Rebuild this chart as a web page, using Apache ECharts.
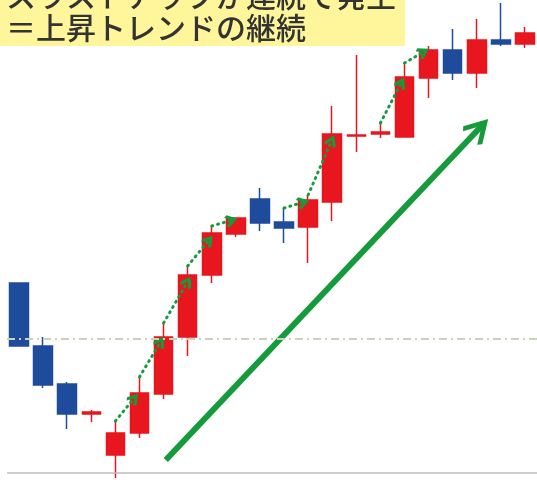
<!DOCTYPE html>
<html>
<head>
<meta charset="utf-8">
<script src="https://cdn.jsdelivr.net/npm/echarts@6/dist/echarts.min.js"></script>
<style>
  html, body { margin: 0; padding: 0; background: #ffffff; }
  #chart { width: 537px; height: 480px; }
</style>
</head>
<body>
<div id="chart"></div>
<script>
// Session labels (one candle each)
const sessions = ['1','2','3','4','5','6','7','8','9','10','11','12','13','14','15','16','17','18','19','20','21','22'];

// OHLC prices per session
const opens  = [141.97, 141.34, 140.96, 140.66, 140.25, 140.47, 140.86, 141.43, 142.05, 142.46, 142.81, 142.58, 142.53, 142.78, 143.44, 143.46, 143.43, 144.02, 144.30, 144.07, 144.40, 144.36];
const closes = [141.34, 140.95, 140.66, 140.68, 140.47, 140.87, 141.43, 142.05, 142.47, 142.62, 142.57, 142.52, 142.80, 143.46, 143.45, 143.48, 144.03, 144.30, 144.07, 144.40, 144.36, 144.47];
const lows   = [141.34, 140.92, 140.51, 140.58, 140.02, 140.42, 140.81, 141.24, 141.97, 142.43, 142.49, 142.37, 142.17, 142.59, 143.28, 143.42, 143.43, 143.82, 144.00, 143.92, 144.34, 144.32];
const highs  = [141.97, 141.43, 140.98, 140.70, 140.59, 141.03, 141.57, 142.14, 142.54, 142.62, 142.92, 142.72, 142.85, 143.74, 144.25, 143.57, 144.17, 144.34, 144.51, 144.61, 144.77, 144.53];

// Reference price levels
const pivotLevel = 141.41;
const baseLevel = 140.075;

// Thrust-up links: previous high -> next close  [session position, price]
const thrustFrom = [[4, 140.59], [5, 141.03], [6, 141.57], [7, 142.14], [8, 142.54], [11, 142.72], [12, 142.85], [15, 143.57], [16, 144.17]];
const thrustTo   = [[4.77, 140.815], [5.87, 141.38], [6.99, 141.98], [7.87, 142.395], [8.81, 142.597], [11.79, 142.777], [12.97, 143.39], [15.86, 143.97], [16.78, 144.28]];

// Overall trend arrow  [session position, price]
const trendFrom = [6.09, 140.20];
const trendTo   = [19.10, 143.515];

// Heading text
const titleLines = ['スラストアップが連続で発生', '＝上昇トレンドの継続'];

const RED = '#E8161E';
const BLUE = '#1F4B9C';
const GREEN = '#169B3C';

// Open chevron heads (tip pointing up in symbol space)
const bigHead = 'path://M18.2,0 L36.5,22.5 L31.8,26.3 L18.2,9.5 L4.7,26.3 L0,22.5 Z M15.2,8 L21.2,8 L21.2,26.3 L15.2,26.3 Z';
const smallHead = 'path://M7,0 L14,7 L11.9,9.1 L7,4.24 L2.1,9.1 L0,7 Z';

const chart = echarts.init(document.getElementById('chart'), null, { renderer: 'canvas' });

chart.setOption({
  animation: false,
  backgroundColor: '#ffffff',
  grid: { left: 7, right: -1, top: 0, bottom: 0 },
  xAxis: [
    { type: 'category', data: sessions, boundaryGap: true, show: false },
    { type: 'value', min: -0.5, max: 21.5, show: false }
  ],
  yAxis: [
    { type: 'value', min: 140, max: 144.8, show: false, splitLine: { show: false }, scale: true }
  ],
  series: [
    {
      type: 'lines',
      coordinateSystem: 'cartesian2d',
      xAxisIndex: 1,
      yAxisIndex: 0,
      silent: true,
      z: 1,
      symbol: ['none', bigHead],
      symbolSize: [36.5, 26.3],
      lineStyle: { color: GREEN, width: 6, opacity: 1, curveness: 0 },
      data: [{ coords: [trendFrom, trendTo] }]
    },
    {
      type: 'candlestick',
      xAxisIndex: 0,
      yAxisIndex: 0,
      barWidth: 19,
      z: 2,
      itemStyle: {
        color: RED,
        color0: BLUE,
        borderColor: RED,
        borderColor0: BLUE,
        borderWidth: 1.5
      },
      data: sessions.map((_, i) => [opens[i], closes[i], lows[i], highs[i]]),
      markLine: {
        silent: true,
        symbol: 'none',
        label: { show: false },
        data: [
          { yAxis: pivotLevel, lineStyle: { color: '#c6d4b8', width: 2, type: [8, 4, 2, 4] } },
          { yAxis: baseLevel, lineStyle: { color: '#bdbdbd', width: 1.5, type: 'solid' } }
        ]
      }
    },
    {
      type: 'lines',
      coordinateSystem: 'cartesian2d',
      xAxisIndex: 1,
      yAxisIndex: 0,
      silent: true,
      z: 3,
      symbol: ['none', smallHead],
      symbolSize: [19, 12.4],
      lineStyle: { color: GREEN, width: 3, opacity: 1, type: [1, 5], cap: 'round', curveness: 0 },
      data: thrustFrom.map((f, i) => ({ coords: [f, thrustTo[i]] }))
    }
  ],
  graphic: [
    {
      type: 'rect',
      z: 100,
      shape: { x: 0, y: 0, width: 405, height: 46 },
      style: { fill: '#FFF59B' }
    },
    {
      type: 'text',
      z: 101,
      x: 6,
      y: -4,
      style: {
        text: titleLines[0],
        font: '500 30px "Noto Sans CJK JP"',
        fill: '#333333',
        verticalAlign: 'middle'
      }
    },
    {
      type: 'text',
      z: 101,
      x: 6,
      y: 28,
      style: {
        text: titleLines[1],
        font: '500 30px "Noto Sans CJK JP"',
        fill: '#333333',
        verticalAlign: 'middle'
      }
    }
  ]
});
</script>
</body>
</html>
